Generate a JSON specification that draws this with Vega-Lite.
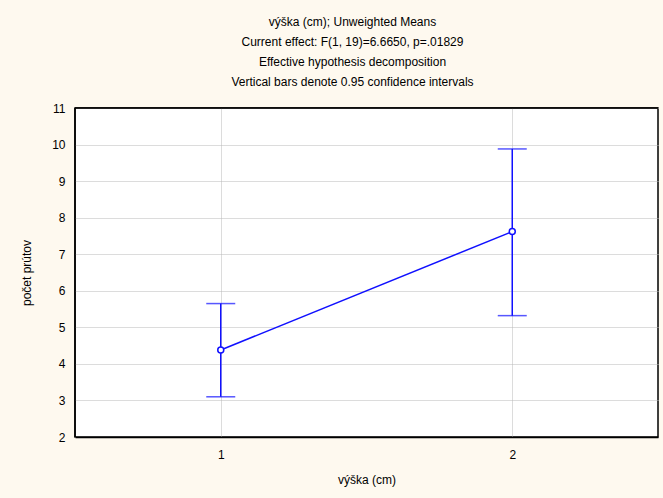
{
  "$schema": "https://vega.github.io/schema/vega-lite/v6.json",
  "width": 583,
  "height": 329,
  "autosize": {"type": "none"},
  "padding": {"left": 75, "top": 108, "right": 5, "bottom": 61},
  "background": "#fef9ef",
  "view": {"fill": "white", "stroke": "black", "strokeWidth": 1.5},
  "config": {
    "axisY": {
      "labelOverlap": false,
      "domain": false,
      "ticks": false,
      "labelPadding": 10,
      "labelFont": "Liberation Sans",
      "labelFontSize": 12,
      "labelColor": "black",
      "titleFont": "Liberation Sans",
      "titleFontSize": 12,
      "titleFontWeight": "normal",
      "titleColor": "black",
      "titlePadding": 18,
      "grid": true,
      "gridColor": "#b8b8b8",
      "gridDash": [1, 1],
      "gridWidth": 1
    }
  },
  "title": {
    "text": [
      "výška (cm); Unweighted Means",
      "Current effect: F(1, 19)=6.6650, p=.01829",
      "Effective hypothesis decomposition",
      "Vertical bars denote 0.95 confidence intervals"
    ],
    "anchor": "middle",
    "frame": "group",
    "dx": -14,
    "offset": 13,
    "lineHeight": 20,
    "font": "Liberation Sans",
    "fontSize": 12,
    "fontWeight": "normal",
    "color": "black"
  },
  "data": {
    "values": [
      {"level": 1, "mean": 4.38, "lo": 3.10, "hi": 5.65},
      {"level": 2, "mean": 7.62, "lo": 5.32, "hi": 9.88}
    ]
  },
  "encoding": {
    "x": {
      "field": "level",
      "type": "quantitative",
      "scale": {"domain": [0.5, 2.5], "nice": false, "zero": false},
      "axis": {
        "title": "výška (cm)",
        "values": [1, 2],
        "format": "d",
        "domain": true,
        "domainColor": "black",
        "domainWidth": 1.5,
        "ticks": false,
        "labelPadding": 12,
        "labelFont": "Liberation Sans",
        "labelFontSize": 12,
        "labelColor": "black",
        "titleFont": "Liberation Sans",
        "titleFontSize": 12,
        "titleFontWeight": "normal",
        "titleColor": "black",
        "titlePadding": 14,
        "grid": true,
        "gridColor": "#b8b8b8",
        "gridDash": [1, 1],
        "gridWidth": 1
      }
    }
  },
  "layer": [
    {
      "mark": {"type": "rule", "color": "#1010ff", "strokeWidth": 1.5},
      "encoding": {
        "y": {
          "field": "lo",
          "type": "quantitative",
          "scale": {"domain": [2, 11], "nice": false, "zero": false},
          "axis": {"title": "počet prútov", "values": [2, 3, 4, 5, 6, 7, 8, 9, 10, 11]}
        },
        "y2": {"field": "hi"}
      }
    },
    {
      "mark": {"type": "tick", "orient": "horizontal", "color": "#1010ff", "size": 29, "thickness": 1.5},
      "encoding": {"y": {"field": "lo", "type": "quantitative", "axis": {"title": "počet prútov", "values": [2, 3, 4, 5, 6, 7, 8, 9, 10, 11]}}}
    },
    {
      "mark": {"type": "tick", "orient": "horizontal", "color": "#1010ff", "size": 29, "thickness": 1.5},
      "encoding": {"y": {"field": "hi", "type": "quantitative", "axis": {"title": "počet prútov", "values": [2, 3, 4, 5, 6, 7, 8, 9, 10, 11]}}}
    },
    {
      "mark": {"type": "line", "color": "#1010ff", "strokeWidth": 1.5},
      "encoding": {"y": {"field": "mean", "type": "quantitative", "axis": {"title": "počet prútov", "values": [2, 3, 4, 5, 6, 7, 8, 9, 10, 11]}}}
    },
    {
      "mark": {"type": "point", "shape": "circle", "filled": true, "fill": "white", "stroke": "#1010ff", "strokeWidth": 1.5, "size": 36, "opacity": 1},
      "encoding": {"y": {"field": "mean", "type": "quantitative", "axis": {"title": "počet prútov", "values": [2, 3, 4, 5, 6, 7, 8, 9, 10, 11]}}}
    },
    {
      "description": "left edge of the plot frame",
      "data": {"values": [{"edge": 0.5}]},
      "mark": {"type": "rule", "color": "black", "strokeWidth": 1.5},
      "encoding": {"x": {"field": "edge", "type": "quantitative"}}
    },
    {
      "description": "top edge of the plot frame",
      "data": {"values": [{"edge": 11}]},
      "mark": {"type": "rule", "color": "black", "strokeWidth": 1.5},
      "encoding": {
        "x": {"value": 0},
        "x2": {"value": 583},
        "y": {"field": "edge", "type": "quantitative", "axis": {"title": "počet prútov", "values": [2, 3, 4, 5, 6, 7, 8, 9, 10, 11]}}
      }
    }
  ]
}
